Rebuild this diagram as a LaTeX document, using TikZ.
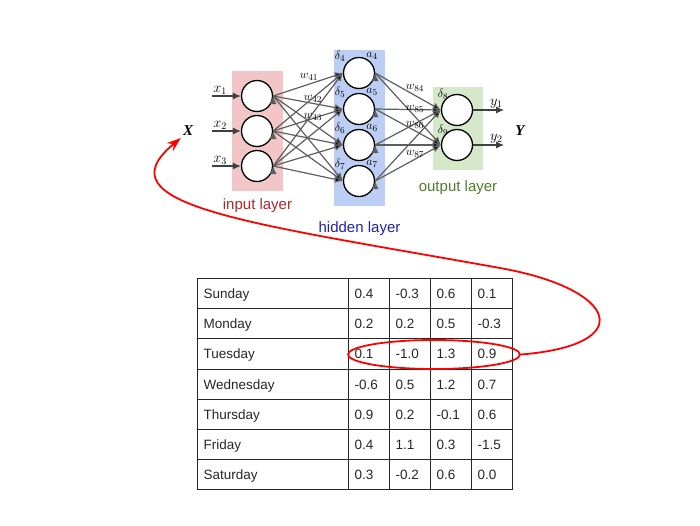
\documentclass[tikz,border=0pt]{standalone}
\usepackage{fontspec}
\setmainfont{Liberation Serif}
\setsansfont{Liberation Sans}
\usepackage{array}
\usetikzlibrary{positioning,arrows.meta,shapes.geometric}
\definecolor{inPink}{HTML}{F2C6C6}
\definecolor{hidBlue}{HTML}{BCCEF4}
\definecolor{outGreen}{HTML}{D6E8CA}
\definecolor{inRed}{HTML}{B0262A}
\definecolor{hidNavy}{HTML}{2222A8}
\definecolor{outOlive}{HTML}{4E7D2A}
\definecolor{wireGray}{HTML}{5E5E5E}
\newcommand{\tabstrut}{\rule[-9.6pt]{0pt}{29.1pt}}

\begin{document}
\begin{tikzpicture}[x=1pt, y=-1pt,
  neuron/.style={circle, draw=black, line width=1.3pt, fill=white, minimum size=31pt, inner sep=0pt},
  layerbox/.style={rectangle, draw=none, inner sep=0pt},
  layername/.style={font=\sffamily\fontsize{15}{18}\selectfont, inner sep=2pt},
  wire/.style={draw=wireGray, line width=1.2pt, -{Latex[length=8pt,width=7pt]}},
  feed/.style={draw=black!75, line width=1.2pt, -{Latex[length=8pt,width=7pt]}},
  wlabel/.style={font=\fontsize{12.5}{14}\selectfont, inner sep=0pt},
  dlabel/.style={font=\fontsize{12.5}{14}\selectfont, inner sep=0pt},
  inlabel/.style={font=\fontsize{14}{16}\selectfont, inner sep=1pt},
  biglabel/.style={font=\fontsize{15}{17}\selectfont\bfseries\itshape, inner sep=2pt},
  redline/.style={draw=red, line width=1.8pt}
]
\useasboundingbox (0,0) rectangle (700,525);

% layer backgrounds
\node[layerbox, fill=inPink, minimum width=51pt, minimum height=120pt] (inbox) at (257.5,131) {};
\node[layerbox, fill=hidBlue, minimum width=51pt, minimum height=156pt] (hidbox) at (359.5,128) {};
\node[layerbox, fill=outGreen, minimum width=50pt, minimum height=83pt] (outbox) at (458,128.5) {};
\node[layername, text=inRed, below=5pt of inbox] (inname) {input layer};
\node[layername, text=hidNavy, below=13pt of hidbox] (hidname) {hidden layer};
\node[layername, text=outOlive, below=8pt of outbox] (outname) {output layer};

% neurons
\node[neuron] (i1) at (257,96) {};
\node[neuron] (i2) at (257,131) {};
\node[neuron] (i3) at (257,166) {};
\node[neuron] (h4) at (359,73) {};
\node[neuron] (h5) at (359,109) {};
\node[neuron] (h6) at (359,145) {};
\node[neuron] (h7) at (359,181) {};
\node[neuron] (o8) at (457,110) {};
\node[neuron] (o9) at (457,145) {};

% delta / activation labels
\node[dlabel] (d4) at ([shift={(-19,-17)}]h4.center) {$\delta_4$};
\node[dlabel] (a4) at ([shift={(13,-17)}]h4.center) {$a_4$};
\node[dlabel] (d5) at ([shift={(-19,-17)}]h5.center) {$\delta_5$};
\node[dlabel] (a5) at ([shift={(13,-17)}]h5.center) {$a_5$};
\node[dlabel] (d6) at ([shift={(-19,-17)}]h6.center) {$\delta_6$};
\node[dlabel] (a6) at ([shift={(13,-17)}]h6.center) {$a_6$};
\node[dlabel] (d7) at ([shift={(-19,-17)}]h7.center) {$\delta_7$};
\node[dlabel] (a7) at ([shift={(13,-17)}]h7.center) {$a_7$};
\node[dlabel] (d8) at ([shift={(-14,-16)}]o8.center) {$\delta_8$};
\node[dlabel] (d9) at ([shift={(-14,-15)}]o9.center) {$\delta_9$};

% weights
\draw[wire] (i1.east) edge (h4.west) edge (h5.west) edge (h6.west) edge (h7.west);
\draw[wire] (i2.east) edge (h4.west) edge (h5.west) edge (h6.west) edge (h7.west);
\draw[wire] (i3.east) edge (h4.west) edge (h5.west) edge (h6.west) edge (h7.west);
\draw[wire] (h4.east) edge (o8.west) edge (o9.west);
\draw[wire] (h5.east) edge (o8.west) edge (o9.west);
\draw[wire] (h6.east) edge (o8.west) edge (o9.west);
\draw[wire] (h7.east) edge (o8.west) edge (o9.west);
\node[wlabel] (w41) at (309,77) {$w_{41}$};
\node[wlabel] (w42) at (313,99) {$w_{42}$};
\node[wlabel] (w43) at (313,117) {$w_{43}$};
\node[wlabel] (w84) at (415,88) {$w_{84}$};
\node[wlabel] (w85) at (415,109) {$w_{85}$};
\node[wlabel] (w86) at (415,125) {$w_{86}$};
\node[wlabel] (w87) at (415,154) {$w_{87}$};

% inputs and outputs
\draw[feed] ([xshift=-29pt]i1.west) node[inlabel, anchor=south west] (x1) {$x_1$} -- (i1.west);
\draw[feed] ([xshift=-29pt]i2.west) node[inlabel, anchor=south west] (x2) {$x_2$} -- (i2.west);
\draw[feed] ([xshift=-29pt]i3.west) node[inlabel, anchor=south west] (x3) {$x_3$} -- (i3.west);
\draw[feed] (o8.east) -- ([xshift=31pt]o8.east) node[inlabel, anchor=south east] (y1) {$y_1$};
\draw[feed] (o9.east) -- ([xshift=31pt]o9.east) node[inlabel, anchor=south east] (y2) {$y_2$};
\node[biglabel] (X) at (188,131) {X};
\node[biglabel] (Y) at (520,131) {Y};

% table of days
\node[anchor=north west, inner sep=0pt, font=\sffamily\fontsize{13.5}{16}\selectfont, text=black!85] (days) at (196.5,278) {%
\setlength{\tabcolsep}{6pt}\setlength{\arrayrulewidth}{1pt}%
\begin{tabular}{|p{138pt}|p{28pt}|p{28pt}|p{28pt}|p{28pt}|}
\hline
\tabstrut Sunday & 0.4 & -0.3 & 0.6 & 0.1\\ \hline
\tabstrut Monday & 0.2 & 0.2 & 0.5 & -0.3\\ \hline
\tabstrut Tuesday & 0.1 & -1.0 & 1.3 & 0.9\\ \hline
\tabstrut Wednesday & -0.6 & 0.5 & 1.2 & 0.7\\ \hline
\tabstrut Thursday & 0.9 & 0.2 & -0.1 & 0.6\\ \hline
\tabstrut Friday & 0.4 & 1.1 & 0.3 & -1.5\\ \hline
\tabstrut Saturday & 0.3 & -0.2 & 0.6 & 0.0\\ \hline
\end{tabular}};

% selected row back to the input
\node[ellipse, redline, minimum width=172pt, minimum height=29pt, inner sep=0pt] (pick) at (434,354.5) {};
\draw[redline, -{Stealth[length=14pt,width=10pt]}] (pick.east) .. controls (639,345) and (618,289) .. (500,268)
  .. controls (250,223) and (98,206) .. (X.south west);
\end{tikzpicture}
\end{document}
